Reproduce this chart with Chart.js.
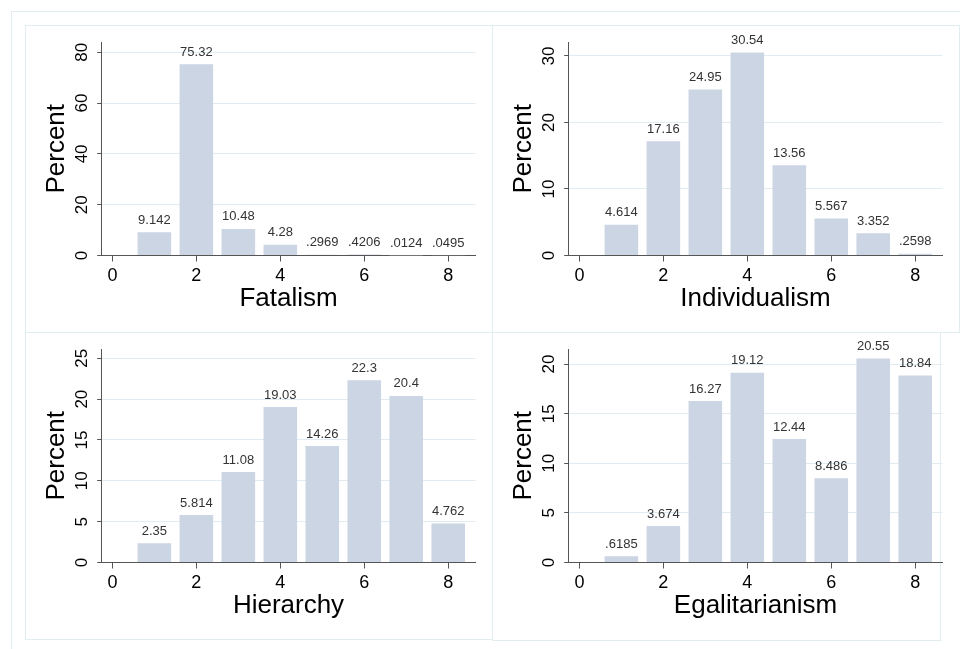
<!DOCTYPE html>
<html>
<head>
<meta charset="utf-8">
<script src="https://cdn.jsdelivr.net/npm/chart.js@4.4.1/dist/chart.umd.min.js"></script>
<style>
  html, body { margin: 0; padding: 0; background: #fff; width: 960px; height: 649px; overflow: hidden; }
  .frame { position: absolute; box-sizing: border-box; border: 1px solid #e2edf2; }
  canvas { position: absolute; }
</style>
</head>
<body>
<div class="frame" style="left:11px;top:11px;width:980px;height:680px;"></div>
<div class="frame" style="left:25px;top:25px;width:468px;height:308px;"></div>
<div class="frame" style="left:492px;top:25px;width:468px;height:308px;"></div>
<div class="frame" style="left:25px;top:332px;width:468px;height:308px;"></div>
<div class="frame" style="left:492px;top:332px;width:449px;height:309px;"></div>
<canvas id="c1" width="467" height="307" style="left:25px;top:25px;"></canvas>
<canvas id="c2" width="467" height="307" style="left:492px;top:25px;"></canvas>
<canvas id="c3" width="467" height="307" style="left:25px;top:332px;"></canvas>
<canvas id="c4" width="467" height="307" style="left:492px;top:332px;"></canvas>
<script>
// ---- data ----
const categories = [1, 2, 3, 4, 5, 6, 7, 8];
const xTicks = [0, 2, 4, 6, 8];

const fatalism       = [9.142, 75.32, 10.48, 4.28, 0.2969, 0.4206, 0.0124, 0.0495];
const individualism  = [4.614, 17.16, 24.95, 30.54, 13.56, 5.567, 3.352, 0.2598];
const hierarchy      = [2.35, 5.814, 11.08, 19.03, 14.26, 22.3, 20.4, 4.762];
const egalitarianism = [0.6185, 3.674, 16.27, 19.12, 12.44, 8.486, 20.55, 18.84];

const fatalismTicks       = [0, 20, 40, 60, 80];
const individualismTicks  = [0, 10, 20, 30];
const hierarchyTicks      = [0, 5, 10, 15, 20, 25];
const egalitarianismTicks = [0, 5, 10, 15, 20];

const fatalismMax = 84.06;
const individualismMax = 32.1;
const hierarchyMax = 26.14;
const egalitarianismMax = 21.52;

// ---- styles ----
const FONT = '"Liberation Sans", Arial, Helvetica, sans-serif';
const barColor = '#ccd5e3';
const gridColor = '#e0ecf1';
const axisColor = '#555555';

function fmt(v) {
  return String(v).replace(/^0\./, '.');
}

const valueLabels = {
  id: 'valueLabels',
  afterDatasetsDraw(chart) {
    const ctx = chart.ctx;
    const meta = chart.getDatasetMeta(0);
    const ds = chart.data.datasets[0];
    ctx.save();
    ctx.font = '13px ' + FONT;
    ctx.fillStyle = '#333333';
    ctx.textAlign = 'center';
    ctx.textBaseline = 'middle';
    meta.data.forEach((bar, i) => {
      ctx.fillText(fmt(ds.data[i].y), bar.x, bar.y - 12);
    });
    ctx.restore();
  }
};

function makeChart(id, title, values, yMax, yTicks) {
  new Chart(document.getElementById(id), {
    type: 'bar',
    data: {
      datasets: [{
        data: categories.map((c, i) => ({ x: c, y: values[i] })),
        backgroundColor: barColor,
        borderWidth: 0,
        barPercentage: 0.8,
        categoryPercentage: 1.0
      }]
    },
    options: {
      responsive: false,
      animation: false,
      devicePixelRatio: 1,
      layout: { padding: { left: 0, top: 17, right: 16.5, bottom: 0 } },
      plugins: { legend: { display: false }, tooltip: { enabled: false } },
      scales: {
        x: {
          type: 'linear',
          min: -0.26,
          max: 8.65,
          offset: false,
          afterBuildTicks: s => { s.ticks = xTicks.map(v => ({ value: v })); },
          afterFit: s => { s.height = 76.5; },
          grid: { drawOnChartArea: false, drawTicks: true, tickLength: 6, tickColor: axisColor, offset: false },
          border: { color: axisColor, width: 1 },
          ticks: { font: { family: FONT, size: 18 }, color: '#000', padding: 4, maxRotation: 0, minRotation: 0, autoSkip: false },
          title: { display: true, text: title, font: { family: FONT, size: 26, lineHeight: 1 }, color: '#000', padding: { top: 0, bottom: 20 } }
        },
        y: {
          min: 0,
          max: yMax,
          afterBuildTicks: s => { s.ticks = yTicks.map(v => ({ value: v })); },
          afterFit: s => { s.width = 76.5; },
          grid: {
            color: ctx => (ctx.tick && ctx.tick.value === 0) ? 'rgba(0,0,0,0)' : gridColor,
            tickColor: axisColor,
            tickLength: 4.3,
            drawTicks: true
          },
          border: { color: axisColor, width: 1 },
          ticks: { font: { family: FONT, size: 17 }, color: '#000', padding: 5, minRotation: 90, maxRotation: 90, crossAlign: 'center', autoSkip: false },
          title: { display: true, text: 'Percent', font: { family: FONT, size: 26, lineHeight: 1 }, color: '#000', padding: { top: 18.7, bottom: 0 } }
        }
      }
    },
    plugins: [valueLabels]
  });
}

makeChart('c1', 'Fatalism', fatalism, fatalismMax, fatalismTicks);
makeChart('c2', 'Individualism', individualism, individualismMax, individualismTicks);
makeChart('c3', 'Hierarchy', hierarchy, hierarchyMax, hierarchyTicks);
makeChart('c4', 'Egalitarianism', egalitarianism, egalitarianismMax, egalitarianismTicks);
</script>
</body>
</html>
